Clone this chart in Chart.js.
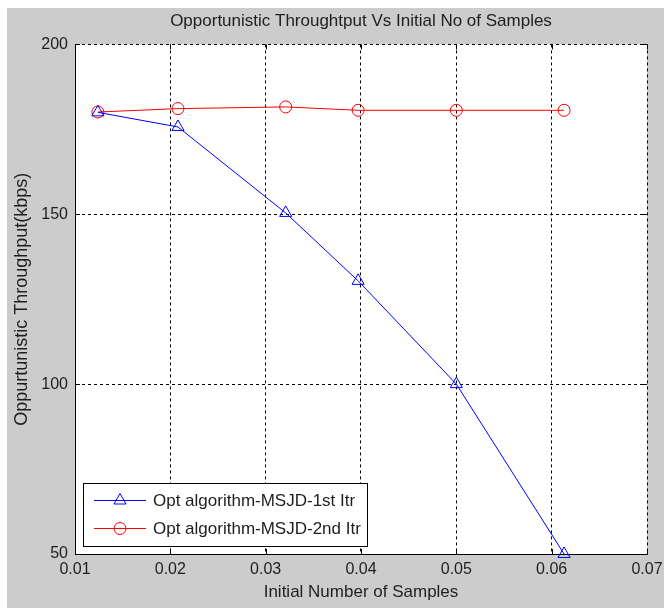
<!DOCTYPE html>
<html>
<head>
<meta charset="utf-8">
<script src="https://cdn.jsdelivr.net/npm/chart.js@4.4.1/dist/chart.umd.min.js"></script>
<style>
  html, body { margin: 0; padding: 0; background: #fff; }
  #wrap { width: 664px; height: 608px; }
</style>
</head>
<body>
<div id="wrap"><canvas id="chart" width="664" height="608"></canvas></div>
<script>
// values
const samples = [0.0124, 0.0208, 0.0321, 0.0397, 0.0500, 0.0613];
const firstItr = [180, 175.7, 150.4, 130.4, 100, 50];
const secondItr = [180.1, 181.1, 181.6, 180.6, 180.6, 180.6];
const xTicks = [0.01, 0.02, 0.03, 0.04, 0.05, 0.06, 0.07];
const yTicks = [50, 100, 150, 200];
const seriesNames = ['Opt algorithm-MSJD-1st Itr', 'Opt algorithm-MSJD-2nd Itr'];

const FONT = "'Liberation Sans', Arial, sans-serif";
const TEXT = '#1e1e1e';

const toPoints = ys => samples.map((x, i) => ({ x: x, y: ys[i] }));

// gray figure + white axes background
const background = {
  id: 'background',
  beforeDraw(chart) {
    const { ctx, width, height, chartArea: a } = chart;
    ctx.save();
    ctx.fillStyle = '#fff';
    ctx.fillRect(0, 0, width, height);
    ctx.fillStyle = '#cccccc';
    ctx.fillRect(7, 8, width - 7, height - 8);
    ctx.fillStyle = '#fff';
    ctx.fillRect(a.left, a.top, a.right - a.left, a.bottom - a.top);
    ctx.restore();
  }
};

// center the title over the axes, not the whole canvas
const titleOverAxes = {
  id: 'titleOverAxes',
  afterLayout(chart) {
    const t = chart.titleBlock;
    if (!t) return;
    t.left = chart.chartArea.left;
    t.right = chart.chartArea.right;
  }
};

// small inward tick marks on the four sides, like matlab
const innerTicks = {
  id: 'innerTicks',
  beforeDatasetsDraw(chart) {
    const { ctx, chartArea: a, scales } = chart;
    const len = 5;
    ctx.save();
    ctx.strokeStyle = '#000';
    ctx.lineWidth = 1;
    ctx.beginPath();
    xTicks.forEach(v => {
      const x = Math.round(scales.x.getPixelForValue(v)) + 0.5;
      ctx.moveTo(x, a.bottom); ctx.lineTo(x, a.bottom - len);
      ctx.moveTo(x, a.top); ctx.lineTo(x, a.top + len);
    });
    yTicks.forEach(v => {
      const y = Math.round(scales.y.getPixelForValue(v)) + 0.5;
      ctx.moveTo(a.left, y); ctx.lineTo(a.left + len, y);
      ctx.moveTo(a.right, y); ctx.lineTo(a.right - len, y);
    });
    ctx.stroke();
    ctx.restore();
  }
};

// matlab style legend box in the lower left corner
const boxLegend = {
  id: 'boxLegend',
  afterDraw(chart) {
    const { ctx, chartArea: a } = chart;
    const left = a.left + 8, top = a.bottom - 71, w = 284, h = 63;
    ctx.save();
    ctx.fillStyle = '#fff';
    ctx.fillRect(left, top, w, h);
    ctx.strokeStyle = '#000';
    ctx.lineWidth = 1;
    ctx.strokeRect(left + 0.5, top + 0.5, w, h);
    chart.data.datasets.forEach((ds, i) => {
      const y = top + 17 + i * 28;
      ctx.strokeStyle = ds.borderColor;
      ctx.beginPath();
      ctx.moveTo(left + 11, y + 0.5);
      ctx.lineTo(left + 63, y + 0.5);
      ctx.stroke();
      ctx.fillStyle = 'rgba(0,0,0,0)';
      Chart.helpers.drawPoint(ctx, {
        pointStyle: ds.pointStyle, radius: ds.pointRadius, rotation: 0, borderWidth: 1
      }, left + 37, y + 0.5);
      ctx.fillStyle = TEXT;
      ctx.font = '17px ' + FONT;
      ctx.textBaseline = 'middle';
      ctx.fillText(ds.label, left + 70, y + 1);
    });
    ctx.restore();
  }
};

new Chart(document.getElementById('chart'), {
  type: 'line',
  data: {
    datasets: [{
      label: seriesNames[0],
      data: toPoints(firstItr),
      borderColor: '#0000ff',
      borderWidth: 1,
      pointStyle: 'triangle',
      pointRadius: 7,
      pointBorderWidth: 1,
      pointBackgroundColor: 'rgba(0,0,0,0)',
      tension: 0,
      clip: false
    }, {
      label: seriesNames[1],
      data: toPoints(secondItr),
      borderColor: '#ff0000',
      borderWidth: 1,
      pointStyle: 'circle',
      pointRadius: 6,
      pointBorderWidth: 1,
      pointBackgroundColor: 'rgba(0,0,0,0)',
      tension: 0,
      clip: false
    }]
  },
  options: {
    responsive: false,
    animation: false,
    layout: { padding: { left: 0, right: 17, top: 0, bottom: 0 } },
    plugins: {
      legend: { display: false },
      tooltip: { enabled: false },
      title: {
        display: true,
        text: 'Opportunistic Throughtput Vs Initial No of Samples',
        color: TEXT,
        font: { family: FONT, size: 17, weight: 'normal' },
        padding: { top: 11, bottom: 13 }
      }
    },
    scales: {
      x: {
        type: 'linear',
        min: xTicks[0],
        max: xTicks[xTicks.length - 1],
        afterBuildTicks: s => { s.ticks = xTicks.map(v => ({ value: v })); },
        afterFit: s => { s.height = 54; s.paddingLeft = 0; s.paddingRight = 0; },
        grid: { color: '#000', lineWidth: 1, drawTicks: false },
        border: { color: '#000', width: 1, dash: [3, 3] },
        ticks: {
          color: TEXT, padding: 6, maxRotation: 0,
          font: { family: FONT, size: 16 },
          callback: v => v.toFixed(2)
        },
        title: {
          display: true, text: 'Initial Number of Samples', color: TEXT,
          font: { family: FONT, size: 17 }, padding: { top: 0, bottom: 5 }
        }
      },
      y: {
        type: 'linear',
        min: yTicks[0],
        max: yTicks[yTicks.length - 1],
        afterBuildTicks: s => { s.ticks = yTicks.map(v => ({ value: v })); },
        afterFit: s => { s.width = 75; s.paddingTop = 0; s.paddingBottom = 0; },
        grid: { color: '#000', lineWidth: 1, drawTicks: false },
        border: { color: '#000', width: 1, dash: [3, 3] },
        ticks: {
          color: TEXT, padding: 7,
          font: { family: FONT, size: 16 }
        },
        title: {
          display: true, text: 'Oppurtunistic Throughput(kbps)', color: TEXT,
          font: { family: FONT, size: 18 }, padding: { top: 11, bottom: 0 }
        }
      }
    }
  },
  plugins: [background, titleOverAxes, innerTicks, boxLegend]
});
</script>
</body>
</html>
